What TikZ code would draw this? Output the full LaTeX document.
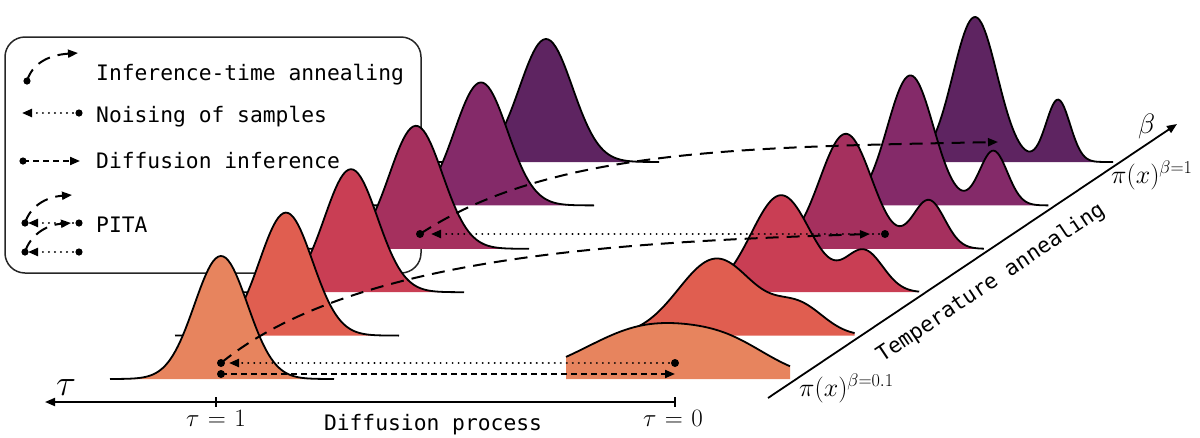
\documentclass[tikz,border=0pt]{standalone}
\usepackage{fix-cm}
\usepackage{fontspec}
\newfontfamily\monof{DejaVu Sans Mono}
\usetikzlibrary{arrows.meta}
\definecolor{cA}{HTML}{E7845E}
\definecolor{cB}{HTML}{E05E50}
\definecolor{cC}{HTML}{C93E54}
\definecolor{cD}{HTML}{A5305E}
\definecolor{cE}{HTML}{842A69}
\definecolor{cF}{HTML}{5E2461}
\pgfmathdeclarefunction{gs}{2}{\pgfmathparse{exp(max(-30,-0.5*((#1)/(#2))*((#1)/(#2))))}}
\newcommand\leftlayer[3]{%
 \pgfmathsetmacro\La{#1-111}\pgfmathsetmacro\Lb{#1+113}%
 \fill[#3] (\La,#2) -- plot[domain=\La:\Lb,samples=90] (\x,{#2-123*gs(\x-#1,26.5)}) -- (\Lb,#2) -- cycle;
 \draw[outl] plot[domain=\La:\Lb,samples=90] (\x,{#2-123*gs(\x-#1,26.5)});
}
\newcommand\rightlayer[7]{%
 \pgfmathsetmacro\La{#1-224}%
 \fill[#7] (\La,#2) -- plot[domain=\La:#1,samples=120] (\x,{#2-#3*(gs(\x-#1+138,#4)+#6*gs(\x-#1+55,#5))}) -- (#1,#2) -- cycle;
 \draw[outl] plot[domain=\La:#1,samples=120] (\x,{#2-#3*(gs(\x-#1+138,#4)+#6*gs(\x-#1+55,#5))});
}
\begin{document}
\begin{tikzpicture}[x=1pt,y=-1pt,
  outl/.style={line width=1.8pt,black,line join=round},
  tipT/.style={-{Triangle[length=10pt,width=8pt]}},
  anneal/.style={line width=2pt,dash pattern=on 13pt off 8pt,tipT},
  noise/.style={line width=2.2pt,line cap=round,dash pattern=on 0.01pt off 6pt,tipT},
  diffu/.style={line width=2pt,dash pattern=on 6pt off 4pt,tipT},
  mono/.style={font=\monof\fontsize{21.3}{25}\selectfont,inner sep=0pt},
  lbl/.style={font=\fontsize{25}{29}\selectfont,inner sep=0pt},
  lblb/.style={font=\fontsize{26}{30}\selectfont,inner sep=0pt},
  axis/.style={line width=1.8pt,black}]
\useasboundingbox (0,0) rectangle (1200,437);
% legend frame
\draw[line width=1.5pt,black!85,rounded corners=20pt] (5,37) rectangle (421,273);
% left stack (tau = 1 side)
\leftlayer{546}{162}{cF}
\leftlayer{481}{205.4}{cE}
\leftlayer{416}{248.8}{cD}
\leftlayer{351}{292.2}{cC}
\leftlayer{286}{335.6}{cB}
\leftlayer{221}{379}{cA}
% right stack (tau = 0 side)
\rightlayer{1113}{162}{145}{22}{12}{0.43}{cF}
\rightlayer{1048.4}{205.4}{130}{23}{14}{0.42}{cE}
\rightlayer{983.8}{248.8}{115}{26}{16}{0.42}{cD}
\rightlayer{919.2}{292.2}{97}{30}{19}{0.42}{cC}
\rightlayer{854.6}{335.6}{77}{38}{25}{0.36}{cB}
\rightlayer{790}{379}{53}{65}{40}{0.35}{cA}
% annotation points
\coordinate (a0) at (221,363);
\coordinate (a0t) at (870,234);
\coordinate (b0) at (420,234);
\coordinate (b0t) at (998,142);
\coordinate (n1) at (675,363);
\coordinate (n1t) at (229,363);
\coordinate (n2) at (885,234);
\coordinate (n2t) at (431,234);
\coordinate (d1) at (221,374);
\coordinate (d1t) at (675,374);
\draw[noise] (n1) -- (n1t);
\draw[noise] (n2) -- (n2t);
\draw[diffu] (d1) -- (d1t);
\draw[anneal] (a0) .. controls (352,256) and (620,242) .. (a0t);
\draw[anneal] (b0) .. controls (550,148.5) and (748,147) .. (b0t);
\foreach \p in {a0,b0,n1,n2,d1} \fill (\p) circle[radius=4pt];
% legend icons
\coordinate (L1s) at (27,81); \coordinate (L1e) at (78,53);
\draw[anneal] (L1s) .. controls (32,64) and (48,55) .. (L1e);
\coordinate (L2s) at (79,113); \coordinate (L2e) at (22,113);
\draw[noise] (L2s) -- (L2e);
\coordinate (L3s) at (23,161); \coordinate (L3e) at (80,161);
\draw[diffu] (L3s) -- (L3e);
\coordinate (L4a) at (79,252); \coordinate (L4b) at (25,252);
\coordinate (L4c) at (79,223); \coordinate (L4d) at (25,223);
\coordinate (L4e) at (71,223); \coordinate (L4f) at (72,195);
\draw[noise] (L4a) -- ([xshift=3pt]L4b);
\draw[noise] (L4c) -- ([xshift=3pt]L4d);
\draw[anneal] (L4b) .. controls (30,236) and (45,225) .. (L4e);
\draw[anneal] (L4d) .. controls (30,207) and (45,197) .. (L4f);
\foreach \p in {L1s,L2s,L3s,L4a,L4b,L4c,L4d} \fill (\p) circle[radius=3.6pt];
\node[mono,anchor=base west] (t1) at (96,80) {Inference-time annealing};
\node[mono,anchor=base west] (t2) at (96,122) {Noising of samples};
\node[mono,anchor=base west] (t3) at (96,168) {Diffusion inference};
\node[mono,anchor=base west] (t4) at (96,232) {PITA};
% diffusion axis
\coordinate (ax0) at (675,402); \coordinate (ax1) at (45,402);
\draw[axis,tipT] (ax0) -- (ax1);
\draw[axis,line width=1.5pt] (216,397) -- (216,407);
\draw[axis,line width=1.5pt] (675,397) -- (675,407);
\node[lbl,anchor=base] (tau1) at (216,426) {$\tau\mkern1mu=\mkern1mu1$};
\node[lbl,anchor=base] (tau0) at (673,426) {$\tau\mkern1mu=\mkern1mu0$};
\node[mono,anchor=base] (dp) at (433,430) {Diffusion process};
\node[font=\fontsize{37}{42}\selectfont,inner sep=0pt,anchor=base west] (taub) at (56,395) {$\tau$};
% temperature axis
\coordinate (bx0) at (768,398); \coordinate (bx1) at (1177,124);
\draw[axis,tipT] (bx0) -- (bx1);
\node[mono,rotate=33.8] (ta) at (991,283) {Temperature annealing};
\node[lblb,anchor=base west] (p01) at (799,396) {$\pi(x)^{\beta=0.1}$};
\node[lblb,anchor=base west] (p1) at (1111,183) {$\pi(x)^{\beta=1}$};
\node[font=\fontsize{28}{32}\selectfont,inner sep=0pt,anchor=base west] (beta) at (1138,133) {$\beta$};
\end{tikzpicture}
\end{document}
